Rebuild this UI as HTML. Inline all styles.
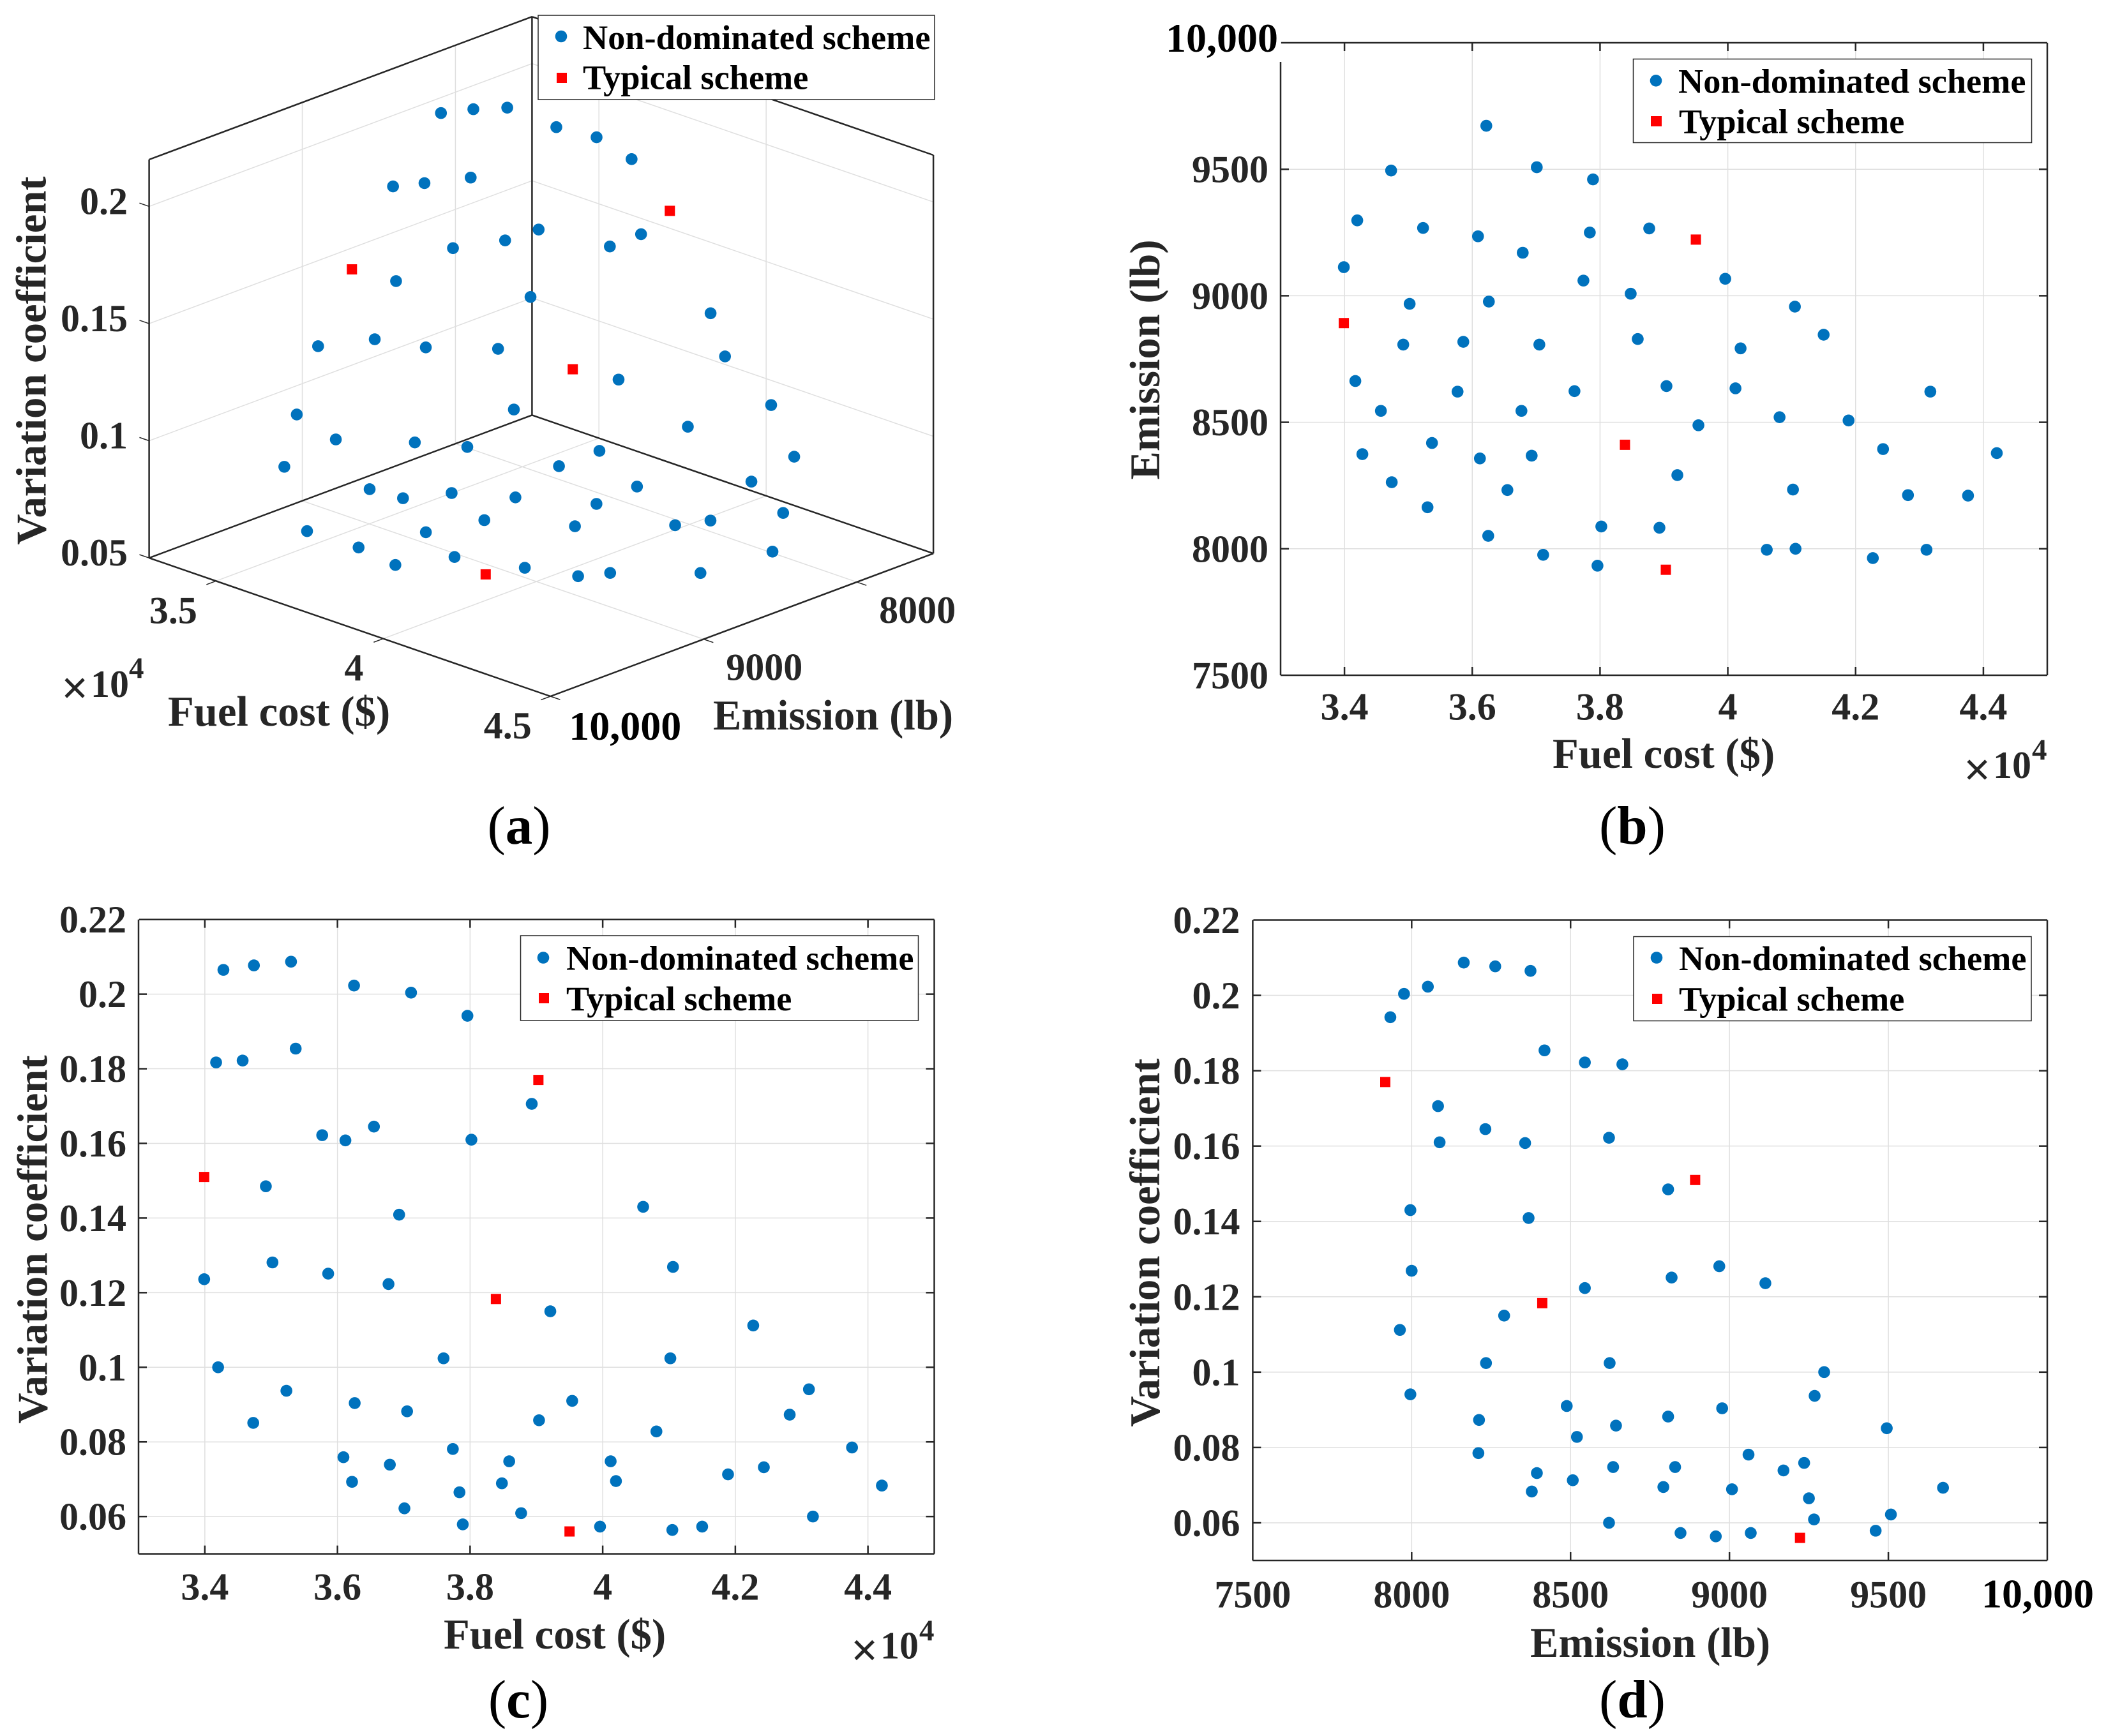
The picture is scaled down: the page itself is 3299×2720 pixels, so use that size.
<!DOCTYPE html>
<html lang="en">
<head>
<meta charset="utf-8">
<title>Pareto front scatter plots</title>
<style>
html,body{margin:0;padding:0;background:#fff;}
svg{display:block;}
text{font-family:"Liberation Serif",serif;font-weight:bold;fill:#262626;}
.tick{font-size:60px;}
.tick-big{font-size:64px;fill:#000;}
.title{font-size:66.7px;}
.legend-text{font-size:54.3px;fill:#000;}
.caption{font-size:85px;font-weight:normal;fill:#000;}
.caption tspan{font-weight:bold;}
.exp{font-size:47px;}
.times{font-size:72px;font-weight:normal;stroke:#262626;stroke-width:1.5;}
.legend-box{fill:#fff;stroke:#262626;stroke-width:1.5;}
</style>
</head>
<body>
<svg id="chart" xmlns="http://www.w3.org/2000/svg" width="3299" height="2720" viewBox="0 0 3299 2720">
<rect width="3299" height="2720" fill="#fff"/>

<g id="panel-a"></g>
<g>
  <text class="title" transform="translate(71.5,565) rotate(-90)" text-anchor="middle">Variation coefficient</text>
  <text class="title" x="263" y="1137">Fuel cost ($)</text>
  <text class="title" x="1117" y="1143">Emission (lb)</text>
  <text class="times" x="117" y="1102" text-anchor="middle">×</text>
  <text class="tick" x="142 172" y="1092">10</text>
  <text class="exp" x="202" y="1062">4</text>
  <text class="caption" x="813" y="1322" text-anchor="middle">(<tspan>a</tspan>)</text>
  <rect class="legend-box" x="843" y="24" width="621" height="132"/>
  <circle cx="879" cy="57" r="9.3" fill="#0072BD"/>
  <rect x="872" y="114" width="16" height="16" fill="#FF0000"/>
  <text class="legend-text" x="913" y="77">Non-dominated scheme</text>
  <text class="legend-text" x="913" y="139.5">Typical scheme</text>
</g>

<g id="panel-b"></g>
<g>
  <text class="title" transform="translate(1816,563.5) rotate(-90)" text-anchor="middle">Emission (lb)</text>
  <text class="title" x="2432" y="1203">Fuel cost ($)</text>
  <text class="times" x="3097" y="1230" text-anchor="middle">×</text>
  <text class="tick" x="3122 3152" y="1219">10</text>
  <text class="exp" x="3183" y="1190">4</text>
  <text class="caption" x="2557" y="1322" text-anchor="middle">(<tspan>b</tspan>)</text>
  <rect class="legend-box" x="2558.5" y="92.5" width="624" height="131"/>
  <circle cx="2594" cy="126.3" r="9.3" fill="#0072BD"/>
  <rect x="2586" y="182" width="17" height="16" fill="#FF0000"/>
  <text class="legend-text" x="2629" y="145.5">Non-dominated scheme</text>
  <text class="legend-text" x="2630" y="208.5">Typical scheme</text>
</g>

<g id="panel-c"></g>
<g>
  <text class="title" transform="translate(73.5,1942) rotate(-90)" text-anchor="middle">Variation coefficient</text>
  <text class="title" x="695" y="2583">Fuel cost ($)</text>
  <text class="times" x="1354" y="2609.5" text-anchor="middle">×</text>
  <text class="tick" x="1379 1409" y="2598.5">10</text>
  <text class="exp" x="1440" y="2570">4</text>
  <text class="caption" x="812" y="2691" text-anchor="middle">(<tspan>c</tspan>)</text>
  <rect class="legend-box" x="815.5" y="1466" width="623" height="133"/>
  <circle cx="851" cy="1500.5" r="9.3" fill="#0072BD"/>
  <rect x="844" y="1556" width="16" height="16" fill="#FF0000"/>
  <text class="legend-text" x="887" y="1519.5">Non-dominated scheme</text>
  <text class="legend-text" x="887" y="1583">Typical scheme</text>
</g>

<g id="panel-d"></g>
<g>
  <text class="title" transform="translate(1816,1947) rotate(-90)" text-anchor="middle">Variation coefficient</text>
  <text class="title" x="2397" y="2596">Emission (lb)</text>
  <text class="caption" x="2557" y="2691" text-anchor="middle">(<tspan>d</tspan>)</text>
  <rect class="legend-box" x="2559" y="1467.5" width="623" height="132"/>
  <circle cx="2595" cy="1500.5" r="9.3" fill="#0072BD"/>
  <rect x="2588" y="1557" width="16" height="16" fill="#FF0000"/>
  <text class="legend-text" x="2630" y="1520">Non-dominated scheme</text>
  <text class="legend-text" x="2630" y="1583.5">Typical scheme</text>
</g>
</svg>

<script>
// Non-dominated schemes (fuel cost in units of 1e4 $, emission in lb, variation coefficient)
const fuelCost = [3.428,3.474,3.530,3.625,3.711,3.796,3.417,3.457,3.537,3.893,3.655,3.577,3.612,3.802,3.492,3.693,4.061,3.502,3.586,3.399,3.677,4.106,3.921,4.227,3.760,4.102,3.420,3.523,3.626,3.954,4.311,3.705,3.473,3.904,4.282,4.081,4.376,3.774,3.609,3.679,3.859,4.012,4.243,4.189,3.622,3.848,4.020,4.421,3.784,3.701,3.877,4.317,3.789,3.996,4.150,4.105];
const emission = [8374,8263,8164,8051,7976,7933,8663,8545,8418,8083,8232,8621,8357,8088,8807,8368,7996,8968,8818,9113,8545,8000,8291,7963,8623,8234,9298,9268,8977,8488,7996,8807,9495,8643,8212,8520,8210,9060,9235,9170,8829,8634,8394,8507,9672,9008,8792,8378,9250,9508,9266,8621,9460,9067,8846,8957];
const variationCoefficient = [0.2065,0.2077,0.2087,0.2023,0.2004,0.1942,0.1817,0.1822,0.1854,0.1706,0.1645,0.1622,0.1608,0.1610,0.1485,0.1409,0.1430,0.1281,0.1251,0.1236,0.1223,0.1269,0.1150,0.1112,0.1024,0.1024,0.1000,0.0937,0.0904,0.0910,0.0941,0.0882,0.0851,0.0858,0.0873,0.0828,0.0785,0.0781,0.0759,0.0739,0.0748,0.0748,0.0732,0.0713,0.0693,0.0689,0.0695,0.0683,0.0665,0.0622,0.0609,0.0600,0.0579,0.0573,0.0573,0.0564];

// Typical schemes
const typicalFuel = [3.903,3.399,3.839,3.950];
const typicalEmission = [7917,8892,8411,9222];
const typicalVariation = [0.1770,0.1510,0.1183,0.0560];

// Tick labels
const fuelTicks2D = ['3.4','3.6','3.8','4','4.2','4.4'];
const emissionTicks2D = ['7500','8000','8500','9000','9500','10,000'];
const variationTicks2D = ['0.06','0.08','0.1','0.12','0.14','0.16','0.18','0.2','0.22'];
const fuelTicks3D = ['3.5','4','4.5'];
const emissionTicks3D = ['8000','9000','10,000'];
const variationTicks3D = ['0.05','0.1','0.15','0.2'];

const SVG_NS = 'http://www.w3.org/2000/svg';
const SPINE = '#262626';
const GRID = '#dfdfdf';
const num = s => parseFloat(String(s).replace(',', ''));

function make(parent, tag, attrs, txt) {
  const el = document.createElementNS(SVG_NS, tag);
  for (const k in attrs) el.setAttribute(k, attrs[k]);
  if (txt !== undefined) el.textContent = txt;
  parent.appendChild(el);
  return el;
}
function line(parent, x1, y1, x2, y2, color, w, name) {
  const el = make(parent, 'line', {x1, y1, x2, y2, stroke: color, 'stroke-width': w});
  
  
  return el;
}
function label(parent, cls, x, y, anchor, str, name) {
  const el = make(parent, 'text', {class: cls, x, y, 'text-anchor': anchor}, str);
  
  
  return el;
}
function bluePoint(parent, cx, cy) {
  const el = make(parent, 'circle', {cx, cy, r: 9.3, fill: '#0072BD'});
  
  
}
function redPoint(parent, cx, cy) {
  const el = make(parent, 'rect', {x: cx - 8, y: cy - 8, width: 16, height: 16, fill: '#FF0000'});
  
  
}
const linear = (d0, d1, r0, r1) => v => r0 + (v - d0) / (d1 - d0) * (r1 - r0);

/* 2D panels */
function panel2D(opt) {
  const g = document.getElementById(opt.id);
  const sx = linear(opt.xDomain[0], opt.xDomain[1], opt.left, opt.right);
  const sy = linear(opt.yDomain[0], opt.yDomain[1], opt.bottom, opt.top);
  const TL = 13;
  opt.xTicks.forEach(t => {
    const x = sx(num(t));
    line(g, x, opt.top, x, opt.bottom, GRID, 1.5, 'x-gridline');
  });
  opt.yTicks.forEach(t => {
    const y = sy(num(t));
    line(g, opt.left, y, opt.right, y, GRID, 1.5, 'y-gridline');
  });
  opt.xTicks.forEach(t => {
    const x = sx(num(t));
    if (x > opt.left + 1 && x < opt.right - 1) {
      line(g, x, opt.bottom, x, opt.bottom - TL, SPINE, 2.5, 'x-tick');
      line(g, x, opt.top, x, opt.top + TL, SPINE, 2.5, 'x-tick-top');
    }
    const big = t === '10,000';
    const lx = big ? opt.xBigLabelX : x;
    label(g, big ? 'tick tick-big' : 'tick', lx, opt.xLabelY, 'middle', t, 'x-tick-label');
  });
  opt.yTicks.forEach(t => {
    const y = sy(num(t));
    if (y > opt.top + 1 && y < opt.bottom - 1) {
      line(g, opt.left, y, opt.left + TL, y, SPINE, 2.5, 'y-tick');
      line(g, opt.right, y, opt.right - TL, y, SPINE, 2.5, 'y-tick-right');
    }
    const big = t === '10,000';
    label(g, big ? 'tick tick-big' : 'tick', big ? opt.yLabelX + 15 : opt.yLabelX, big ? y + 14 : y + 20.5, 'end', t, 'y-tick-label');
  });
  line(g, opt.left, opt.bottom, opt.right, opt.bottom, SPINE, 2.5, 'x-axis-line');
  line(g, opt.left + 1, opt.top, opt.right, opt.top, SPINE, 2.5, 'top-border');
  line(g, opt.left, opt.leftTop, opt.left, opt.bottom, SPINE, 2.5, 'y-axis-line');
  line(g, opt.right, opt.top, opt.right, opt.bottom, SPINE, 2.5, 'right-border');
  opt.xs.forEach((v, i) => bluePoint(g, sx(v), sy(opt.ys[i])));
  opt.txs.forEach((v, i) => redPoint(g, sx(v), sy(opt.tys[i])));
}

panel2D({id: 'panel-b', left: 2006, right: 3207, top: 67, bottom: 1058, leftTop: 97,
  xDomain: [3.3, 4.5], yDomain: [7500, 10000], xTicks: fuelTicks2D, yTicks: emissionTicks2D,
  xLabelY: 1127.5, yLabelX: 1987, xs: fuelCost, ys: emission, txs: typicalFuel, tys: typicalEmission});

panel2D({id: 'panel-c', left: 217, right: 1463.5, top: 1440.7, bottom: 2434.6, leftTop: 1440.7,
  xDomain: [3.3, 4.5], yDomain: [0.05, 0.22], xTicks: fuelTicks2D, yTicks: variationTicks2D,
  xLabelY: 2506.5, yLabelX: 198, xs: fuelCost, ys: variationCoefficient, txs: typicalFuel, tys: typicalVariation});

panel2D({id: 'panel-d', left: 1962.4, right: 3207, top: 1441.5, bottom: 2445, leftTop: 1441.5,
  xDomain: [7500, 10000], yDomain: [0.05, 0.22], xTicks: emissionTicks2D, yTicks: variationTicks2D,
  xLabelY: 2518.5, yLabelX: 1942.5, xBigLabelX: 3192, xs: emission, ys: variationCoefficient, txs: typicalEmission, tys: typicalVariation});

/* 3D panel (a): oblique projection of the axes box */
(function () {
  const g = document.getElementById('panel-a');
  const fMin = 3.3, fMax = 4.5, eMin = 7500, eMax = 10000, vMin = 0.05, vMax = 0.22;
  const OX = 233.6, OY = 874.2;
  const FX = 628.7, FY = 216.8, EX = 599.8, EY = -223.8, VH = 624.2;
  function P(f, e, v) {
    const a = (f - fMin) / (fMax - fMin), b = (eMax - e) / (eMax - eMin), c = (v - vMin) / (vMax - vMin);
    return [OX + a * FX + b * EX, OY + a * FY + b * EY - c * VH];
  }
  function seg(a, b, color, w, name) { line(g, a[0], a[1], b[0], b[1], color, w, name); }

  // walls and floor grid
  variationTicks3D.forEach(t => {
    const v = num(t);
    if (v > vMin) {
      seg(P(fMin, eMax, v), P(fMin, eMin, v), GRID, 1.5, 'z-gridline-left-wall');
      seg(P(fMin, eMin, v), P(fMax, eMin, v), GRID, 1.5, 'z-gridline-right-wall');
    }
  });
  emissionTicks3D.forEach(t => {
    const e = num(t);
    if (e < eMax) {
      seg(P(fMin, e, vMin), P(fMin, e, vMax), GRID, 1.5, 'emission-gridline-wall');
      seg(P(fMin, e, vMin), P(fMax, e, vMin), GRID, 1.5, 'emission-gridline-floor');
    }
  });
  fuelTicks3D.forEach(t => {
    const f = num(t);
    if (f < fMax) {
      seg(P(f, eMin, vMin), P(f, eMin, vMax), GRID, 1.5, 'fuel-gridline-wall');
      seg(P(f, eMax, vMin), P(f, eMin, vMin), GRID, 1.5, 'fuel-gridline-floor');
    }
  });

  // box edges
  const e1 = [
    [P(fMin, eMax, vMin), P(fMin, eMax, vMax)],
    [P(fMin, eMin, vMin), P(fMin, eMin, vMax)],
    [P(fMax, eMin, vMin), P(fMax, eMin, vMax)],
    [P(fMin, eMax, vMax), P(fMin, eMin, vMax)],
    [P(fMin, eMin, vMax), P(fMax, eMin, vMax)],
    [P(fMin, eMax, vMin), P(fMin, eMin, vMin)],
    [P(fMin, eMin, vMin), P(fMax, eMin, vMin)],
    [P(fMin, eMax, vMin), P(fMax, eMax, vMin)],
    [P(fMax, eMax, vMin), P(fMax, eMin, vMin)]
  ];
  e1.forEach(s => seg(s[0], s[1], SPINE, 2.5, 'axes-box-edge'));

  // ticks
  const FN = Math.hypot(FX, FY), EN = Math.hypot(EX, EY), TL = 16;
  fuelTicks3D.forEach(t => {
    const p = P(num(t), eMax, vMin);
    seg(p, [p[0] - EX / EN * TL, p[1] - EY / EN * TL], SPINE, 1.5, 'fuel-tick');
  });
  emissionTicks3D.forEach(t => {
    const p = P(fMax, num(t), vMin);
    seg(p, [p[0] + FX / FN * TL, p[1] + FY / FN * TL], SPINE, 1.5, 'emission-tick');
  });
  variationTicks3D.forEach(t => {
    const p = P(fMin, eMax, num(t));
    seg(p, [p[0] - FX / FN * TL, p[1] - FY / FN * TL], SPINE, 1.5, 'variation-tick');
  });

  // tick labels, offset from their tick along the axis direction
  fuelTicks3D.forEach(t => {
    const p = P(num(t), eMax, vMin);
    const dx = t === '4' ? -46 : -67;
    label(g, 'tick', p[0] + dx, p[1] + 66, 'middle', t, 'fuel-tick-label');
  });
  emissionTicks3D.forEach(t => {
    const p = P(fMax, num(t), vMin);
    const big = t === '10,000';
    label(g, big ? 'tick tick-big' : 'tick', p[0] + (big ? 117 : 95), p[1] + (big ? 68 : 64), 'middle', t, 'emission-tick-label');
  });
  variationTicks3D.forEach(t => {
    const p = P(fMin, eMax, num(t));
    label(g, 'tick', 200, p[1] + 12, 'end', t, 'variation-tick-label');
  });

  fuelCost.forEach((f, i) => {
    const p = P(f, emission[i], variationCoefficient[i]);
    bluePoint(g, p[0], p[1]);
  });
  typicalFuel.forEach((f, i) => {
    const p = P(f, typicalEmission[i], typicalVariation[i]);
    redPoint(g, p[0], p[1]);
  });
})();
</script>
</body>
</html>
